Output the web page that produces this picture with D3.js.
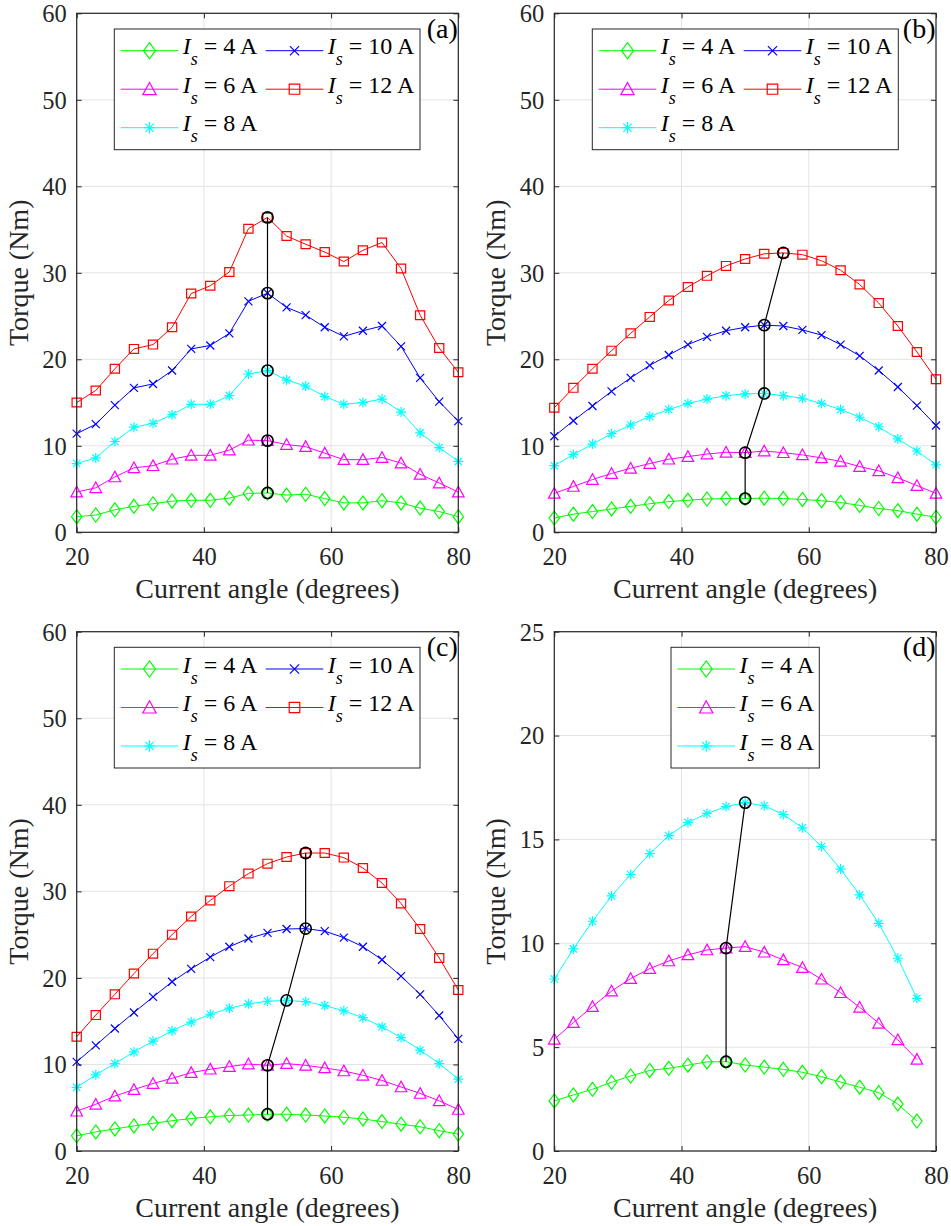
<!DOCTYPE html>
<html>
<head>
<meta charset="utf-8">
<script src="https://cdn.jsdelivr.net/npm/d3@7/dist/d3.min.js"></script>
<style>
  body { margin: 0; background: #fff; }
  svg { display: block; font-family: "Liberation Serif", "Times New Roman", serif; }
</style>
</head>
<body>
<svg id="chart" width="951" height="1226"></svg>
<script>
// ---- Data -----------------------------------------------------------------
const angles  = [20, 23, 26, 29, 32, 35, 38, 41, 44, 47, 50, 53, 56, 59, 62, 65, 68, 71, 74, 77, 80];
const anglesD = [20, 23, 26, 29, 32, 35, 38, 41, 44, 47, 50, 53, 56, 59, 62, 65, 68, 71, 74, 77];

const currents = [4, 6, 8, 10, 12];            // stator current I_s (A)
const xTicks = [20, 40, 60, 80];
const yTicksFull = [0, 10, 20, 30, 40, 50, 60];
const yTicksSmall = [0, 5, 10, 15, 20, 25];
const panelLabels = ["(a)", "(b)", "(c)", "(d)"];

// (a)
const torqueA4  = [1.8, 2.0, 2.6, 3.0, 3.3, 3.6, 3.7, 3.7, 3.95, 4.5, 4.55, 4.3, 4.4, 3.9, 3.4, 3.4, 3.65, 3.4, 2.8, 2.4, 1.8];
const torqueA6  = [4.65, 5.15, 6.4, 7.45, 7.7, 8.45, 8.9, 8.9, 9.5, 10.65, 10.6, 10.15, 9.9, 9.15, 8.4, 8.4, 8.65, 8.0, 6.7, 5.7, 4.65];
const torqueA8  = [7.95, 8.6, 10.5, 12.15, 12.6, 13.6, 14.8, 14.8, 15.8, 18.3, 18.7, 17.6, 16.9, 15.7, 14.8, 15.0, 15.4, 13.9, 11.5, 9.8, 8.2];
const torqueA10 = [11.4, 12.5, 14.7, 16.7, 17.15, 18.7, 21.2, 21.6, 23.0, 26.7, 27.65, 26.0, 25.1, 23.7, 22.65, 23.3, 23.85, 21.5, 17.85, 15.1, 12.85];
const torqueA12 = [15.0, 16.4, 18.9, 21.2, 21.7, 23.7, 27.6, 28.5, 30.1, 35.1, 36.4, 34.25, 33.3, 32.4, 31.3, 32.6, 33.5, 30.5, 25.1, 21.3, 18.5];

// (b)
const torqueB4  = [1.65, 2.1, 2.4, 2.7, 3.0, 3.3, 3.55, 3.7, 3.85, 3.9, 3.9, 3.95, 3.9, 3.8, 3.65, 3.45, 3.1, 2.75, 2.5, 2.1, 1.75];
const torqueB6  = [4.5, 5.3, 6.1, 6.8, 7.4, 7.95, 8.45, 8.75, 9.05, 9.25, 9.2, 9.4, 9.2, 8.95, 8.6, 8.2, 7.6, 7.1, 6.3, 5.4, 4.5];
const torqueB8  = [7.7, 9.0, 10.2, 11.4, 12.4, 13.4, 14.2, 14.9, 15.4, 15.8, 16.0, 16.05, 15.8, 15.5, 14.9, 14.2, 13.3, 12.2, 10.8, 9.4, 7.8];
const torqueB10 = [11.1, 12.9, 14.6, 16.3, 17.85, 19.3, 20.5, 21.7, 22.6, 23.3, 23.7, 23.95, 23.85, 23.4, 22.8, 21.7, 20.4, 18.7, 16.8, 14.65, 12.35];
const torqueB12 = [14.4, 16.7, 18.9, 21.0, 23.0, 24.9, 26.8, 28.35, 29.65, 30.8, 31.6, 32.2, 32.3, 32.1, 31.4, 30.3, 28.65, 26.5, 23.85, 20.85, 17.7];

// (c)
const torqueC4  = [1.75, 2.2, 2.55, 2.9, 3.2, 3.5, 3.75, 3.95, 4.1, 4.15, 4.25, 4.25, 4.15, 4.05, 3.9, 3.7, 3.4, 3.1, 2.8, 2.35, 1.95];
const torqueC6  = [4.6, 5.4, 6.35, 7.1, 7.8, 8.4, 9.05, 9.45, 9.75, 10.05, 9.9, 10.1, 9.9, 9.6, 9.25, 8.75, 8.15, 7.4, 6.65, 5.8, 4.8];
const torqueC8  = [7.35, 8.8, 10.1, 11.45, 12.7, 13.9, 14.9, 15.8, 16.5, 17.0, 17.3, 17.4, 17.25, 16.8, 16.2, 15.4, 14.35, 13.1, 11.65, 10.1, 8.3];
const torqueC10 = [10.3, 12.2, 14.15, 16.0, 17.8, 19.55, 21.05, 22.4, 23.6, 24.55, 25.2, 25.65, 25.7, 25.4, 24.65, 23.6, 22.1, 20.2, 18.1, 15.65, 12.95];
const torqueC12 = [13.2, 15.7, 18.1, 20.5, 22.8, 25.0, 27.1, 28.95, 30.6, 32.05, 33.2, 33.97, 34.43, 34.43, 33.9, 32.7, 30.96, 28.6, 25.65, 22.3, 18.6];

// (d)
const torqueD4  = [2.41, 2.7, 2.97, 3.31, 3.61, 3.88, 3.98, 4.13, 4.29, 4.3, 4.14, 4.04, 3.93, 3.79, 3.58, 3.32, 3.07, 2.81, 2.26, 1.44];
const torqueD6  = [5.38, 6.18, 6.95, 7.7, 8.3, 8.78, 9.15, 9.44, 9.68, 9.77, 9.84, 9.57, 9.2, 8.83, 8.27, 7.62, 6.92, 6.15, 5.35, 4.41];
const torqueD8  = [8.28, 9.73, 11.06, 12.28, 13.31, 14.32, 15.18, 15.82, 16.25, 16.58, 16.77, 16.62, 16.2, 15.56, 14.66, 13.57, 12.33, 10.96, 9.28, 7.35];

// Angle of maximum torque per ampere for each current (black trace)
const mtpaA = [50, 50, 50, 50, 50];
const mtpaB = [50, 50, 53, 53, 56];
const mtpaC = [50, 50, 53, 56, 56];
const mtpaD = [47, 47, 50];

// ---- Styling ----------------------------------------------------------------
const seriesColors  = ["#00ff00", "#ff00ff", "#00ffff", "#0000ff", "#ff0000"];
const seriesMarkers = ["diamond", "triangle", "asterisk", "cross", "square"];
const axisColor = "#262626";
const gridColor = "#e3e3e3";
const serif = "'Liberation Serif', 'Times New Roman', serif";

const panels = [
  { label: panelLabels[0], box: [76.7, 13.3, 458.3, 532.3], yMax: 60, yTicks: yTicksFull,
    x: angles, series: [torqueA4, torqueA6, torqueA8, torqueA10, torqueA12], mtpa: mtpaA,
    legend: { x: 114.3, y: 29, w: 305.7, h: 120.7, cols: 2 } },
  { label: panelLabels[1], box: [554.3, 13.3, 936, 532.3], yMax: 60, yTicks: yTicksFull,
    x: angles, series: [torqueB4, torqueB6, torqueB8, torqueB10, torqueB12], mtpa: mtpaB,
    legend: { x: 592.3, y: 29, w: 306, h: 120.7, cols: 2 } },
  { label: panelLabels[2], box: [76.7, 631.7, 458.3, 1151], yMax: 60, yTicks: yTicksFull,
    x: angles, series: [torqueC4, torqueC6, torqueC8, torqueC10, torqueC12], mtpa: mtpaC,
    legend: { x: 114.3, y: 647.3, w: 305.7, h: 120.7, cols: 2 } },
  { label: panelLabels[3], box: [554.3, 631.7, 936, 1151], yMax: 25, yTicks: yTicksSmall,
    x: anglesD, series: [torqueD4, torqueD6, torqueD8], mtpa: mtpaD,
    legend: { x: 671, y: 647.3, w: 148.3, h: 120.7, cols: 1 } }
];

const svg = d3.select("#chart");
svg.append("rect").attr("width", 951).attr("height", 1226).attr("fill", "#fff");

// Draws one marker glyph centred at (0,0) inside group g
function drawMarker(g, shape, color, s) {
  s = s || 1;
  let d;
  if (shape === "diamond") {
    d = `M0,${-7 * s}L${5.2 * s},0L0,${7 * s}L${-5.2 * s},0Z`;
  } else if (shape === "triangle") {
    d = `M0,${-5.8 * s}L${5.8 * s},${4.8 * s}L${-5.8 * s},${4.8 * s}Z`;
  } else if (shape === "square") {
    d = `M${-4.6 * s},${-4.4 * s}h${9.2 * s}v${8.8 * s}h${-9.2 * s}Z`;
  } else if (shape === "cross") {
    const r = 4 * s;
    d = `M${-r},${-r}L${r},${r}M${-r},${r}L${r},${-r}`;
  } else {
    const r = 5 * s, q = 3.6 * s;
    d = `M${-r},0L${r},0M0,${-r}L0,${r}M${-q},${-q}L${q},${q}M${-q},${q}L${q},${-q}`;
  }
  g.append("path").attr("d", d)
    .attr("fill", "none").attr("stroke", color).attr("stroke-width", 1.2);
}

panels.forEach(p => {
  const [x0, y0, x1, y1] = p.box;
  const xScale = d3.scaleLinear().domain([20, 80]).range([x0, x1]);
  const yScale = d3.scaleLinear().domain([0, p.yMax]).range([y1, y0]);
  const g = svg.append("g");

  // grid
  g.append("g").selectAll("line").data(xTicks).join("line")
    .attr("x1", d => xScale(d)).attr("x2", d => xScale(d))
    .attr("y1", y0).attr("y2", y1)
    .attr("stroke", gridColor).attr("stroke-width", 1);
  g.append("g").selectAll("line").data(p.yTicks).join("line")
    .attr("x1", x0).attr("x2", x1)
    .attr("y1", d => yScale(d)).attr("y2", d => yScale(d))
    .attr("stroke", gridColor).attr("stroke-width", 1);

  // axes with inward ticks on all four sides
  const tickLen = 5;
  const axB = g.append("g").attr("transform", `translate(0,${y1})`)
    .call(d3.axisBottom(xScale).tickValues(xTicks).tickSizeInner(-tickLen).tickSizeOuter(0));
  const axT = g.append("g").attr("transform", `translate(0,${y0})`)
    .call(d3.axisTop(xScale).tickValues(xTicks).tickSizeInner(-tickLen).tickSizeOuter(0).tickFormat(""));
  const axL = g.append("g").attr("transform", `translate(${x0},0)`)
    .call(d3.axisLeft(yScale).tickValues(p.yTicks).tickSizeInner(-tickLen).tickSizeOuter(0));
  const axR = g.append("g").attr("transform", `translate(${x1},0)`)
    .call(d3.axisRight(yScale).tickValues(p.yTicks).tickSizeInner(-tickLen).tickSizeOuter(0).tickFormat(""));
  [axB, axT, axL, axR].forEach(a => {
    a.attr("font-family", serif).attr("font-size", 24);
    a.select(".domain").remove();
    a.selectAll(".tick line").attr("stroke", axisColor).attr("stroke-width", 1);
    a.selectAll(".tick text").attr("fill", axisColor)
      .style("font-family", serif).style("font-size", "24.5px");
  });
  axB.selectAll(".tick text").attr("y", 33).attr("dy", null);
  axL.selectAll(".tick text").attr("x", -10).attr("dy", "0.34em");

  // series
  const line = d3.line().x(d => xScale(d[0])).y(d => yScale(d[1]));
  p.series.forEach((vals, i) => {
    const pts = p.x.map((a, k) => [a, vals[k]]);
    g.append("path").datum(pts).attr("d", line)
      .attr("fill", "none").attr("stroke", seriesColors[i]).attr("stroke-width", 1);
    pts.forEach(pt => {
      const mg = g.append("g").attr("transform", `translate(${xScale(pt[0])},${yScale(pt[1])})`);
      drawMarker(mg, seriesMarkers[i], seriesColors[i]);
    });
  });

  // maximum-torque trace
  const mtpaPts = p.mtpa.map((a, i) => [a, p.series[i][p.x.indexOf(a)]]);
  g.append("path").datum(mtpaPts).attr("d", line)
    .attr("fill", "none").attr("stroke", "#000").attr("stroke-width", 1.2);
  g.append("g").selectAll("circle").data(mtpaPts).join("circle")
    .attr("cx", d => xScale(d[0])).attr("cy", d => yScale(d[1])).attr("r", 5.6)
    .attr("fill", "none").attr("stroke", "#000").attr("stroke-width", 1.6);

  // box
  g.append("rect").attr("x", x0).attr("y", y0).attr("width", x1 - x0).attr("height", y1 - y0)
    .attr("fill", "none").attr("stroke", axisColor).attr("stroke-width", 1.2);

  // axis titles
  g.append("text").attr("x", (x0 + x1) / 2).attr("y", y1 + 66)
    .attr("text-anchor", "middle").attr("fill", axisColor)
    .style("font-family", serif).style("font-size", "28px")
    .text("Current angle (degrees)");
  g.append("text")
    .attr("transform", `translate(${x0 - 49},${(y0 + y1) / 2}) rotate(-90)`)
    .attr("text-anchor", "middle").attr("fill", axisColor)
    .style("font-family", serif).style("font-size", "28px")
    .text("Torque (Nm)");

  // panel tag
  g.append("text").attr("x", x1 - 0.5).attr("y", y0 + 24.5)
    .attr("text-anchor", "end").attr("fill", "#000")
    .style("font-family", serif).style("font-size", "28px")
    .text(p.label);

  // legend
  const L = p.legend;
  const lg = svg.append("g").attr("transform", `translate(${L.x},${L.y})`);
  lg.append("rect").attr("width", L.w).attr("height", L.h)
    .attr("fill", "#fff").attr("stroke", axisColor).attr("stroke-width", 1);
  const rows = 3;
  p.series.forEach((vals, i) => {
    const col = Math.floor(i / rows), row = i % rows;
    const cx = 6.4 + col * 145;
    const cy = 21.7 + row * 38.5;
    const eg = lg.append("g").attr("transform", `translate(${cx},${cy})`);
    eg.append("line").attr("x1", 0).attr("x2", 57.6).attr("y1", 0).attr("y2", 0)
      .attr("stroke", seriesColors[i]).attr("stroke-width", 1);
    const mg = eg.append("g").attr("transform", "translate(28.8,0)");
    drawMarker(mg, seriesMarkers[i], seriesColors[i], 1.15);
    const t = eg.append("text").attr("x", 62).attr("y", 3.5).attr("fill", "#000")
      .style("font-family", serif).style("font-size", "24px");
    t.append("tspan").style("font-style", "italic").text("I");
    t.append("tspan").style("font-style", "italic").style("font-size", "18px").attr("dy", 11).text("s");
    t.append("tspan").attr("dy", -11).text(` = ${currents[i]} A`);
  });
});
</script>
</body>
</html>
